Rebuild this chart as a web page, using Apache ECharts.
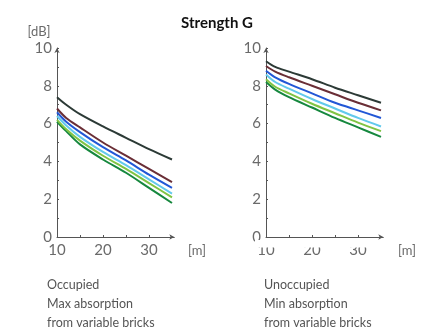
<!DOCTYPE html>
<html>
<head>
<meta charset="utf-8">
<script src="https://cdn.jsdelivr.net/npm/echarts@6/dist/echarts.min.js"></script>
<style>html,body{margin:0;padding:0;background:#fff;}#c{width:448px;height:330px;}</style>
</head>
<body>
<div id="c"></div>
<script>
const distances = [10, 12, 15, 20, 25, 30, 35];
const seriesNames = ['S1', 'S2', 'S3', 'S4', 'S5', 'S6'];
const seriesColors = ['#2c3a36', '#6a2e36', '#2257d6', '#62c9ec', '#80c444', '#16883e'];
// Occupied, max absorption
const occ1 = [7.4, 7.0, 6.5, 5.85, 5.25, 4.65, 4.1];
const occ2 = [6.8, 6.3, 5.8, 5.0, 4.3, 3.6, 2.9];
const occ3 = [6.6, 6.1, 5.55, 4.75, 4.05, 3.3, 2.6];
const occ4 = [6.4, 5.9, 5.3, 4.5, 3.8, 3.05, 2.3];
const occ5 = [6.2, 5.7, 5.1, 4.3, 3.6, 2.85, 2.1];
const occ6 = [6.1, 5.6, 4.9, 4.1, 3.4, 2.6, 1.8];
// Unoccupied, min absorption
const un1 = [9.3, 9.0, 8.75, 8.35, 7.9, 7.5, 7.1];
const un2 = [9.05, 8.75, 8.45, 8.0, 7.55, 7.1, 6.7];
const un3 = [8.8, 8.45, 8.1, 7.6, 7.1, 6.7, 6.3];
const un4 = [8.6, 8.2, 7.85, 7.3, 6.8, 6.3, 5.85];
const un5 = [8.35, 7.95, 7.6, 7.05, 6.55, 6.05, 5.6];
const un6 = [8.2, 7.8, 7.4, 6.85, 6.3, 5.8, 5.3];
const yTicks = [0, 2, 4, 6, 8, 10];
const xTickLabels = [10, 20, 30];

const occ = [occ1, occ2, occ3, occ4, occ5, occ6];
const un = [un1, un2, un3, un4, un5, un6];

const axisColor = '#555';
const labelColor = '#6a6a6a';
const font = 'Lato, "Open Sans", sans-serif';

function xAxis(idx) {
  return {
    type: 'value', gridIndex: idx, min: 10, max: 35.5, interval: 5,
    axisLine: { lineStyle: { color: axisColor, width: 1 }, symbol: ['none', 'arrow'], symbolSize: [4, 5] },
    axisTick: { inside: true, length: 2, lineStyle: { color: axisColor }, customValues: [15, 20, 25, 30] },
    splitLine: { show: false },
    axisLabel: { customValues: xTickLabels, color: labelColor, fontSize: 15, fontFamily: font, margin: 6 }
  };
}
function yAxis(idx) {
  return {
    type: 'value', gridIndex: idx, min: 0, max: 10, interval: 1,
    axisLine: { show: true, lineStyle: { color: axisColor, width: 1 }, symbol: ['none', 'arrow'], symbolSize: [4, 5] },
    axisTick: { show: true, inside: true, length: 2, lineStyle: { color: axisColor } },
    splitLine: { show: false },
    axisLabel: { customValues: yTicks, color: labelColor, fontSize: 15, fontFamily: font, margin: 5 }
  };
}
function mkSeries(arrs, idx) {
  return arrs.map((a, i) => ({
    type: 'line', name: seriesNames[i], xAxisIndex: idx, yAxisIndex: idx,
    data: distances.map((d, j) => [d, a[j]]),
    showSymbol: false, smooth: 0.3, z: 10 - i,
    lineStyle: { color: seriesColors[i], width: 2 }
  }));
}
const chart = echarts.init(document.getElementById('c'), null, { renderer: 'canvas' });
chart.setOption({
  animation: false,
  backgroundColor: '#fff',
  title: { text: 'Strength G', left: 212, top: 11, textAlign: 'center',
    textStyle: { fontSize: 15, fontWeight: 'bold', color: '#111', fontFamily: font } },
  grid: [
    { left: 57, top: 48, width: 117.3, height: 189 },
    { left: 266, top: 48, width: 117.3, height: 189 }
  ],
  xAxis: [xAxis(0), xAxis(1)],
  yAxis: [yAxis(0), yAxis(1)],
  series: [...mkSeries(occ, 0), ...mkSeries(un, 1)],
  graphic: [
    { type: 'rect', shape: { x: 255, y: 240, width: 120, height: 7.5 }, style: { fill: '#fff' }, z: 100 },
    { type: 'text', x: 39, y: 32, style: { text: '[dB]', fill: labelColor, fontSize: 13, fontFamily: font, align: 'center', verticalAlign: 'middle' } },
    { type: 'text', x: 197, y: 251, style: { text: '[m]', fill: labelColor, fontSize: 13, fontFamily: font, align: 'center', verticalAlign: 'middle' } },
    { type: 'text', x: 407, y: 251, style: { text: '[m]', fill: labelColor, fontSize: 13, fontFamily: font, align: 'center', verticalAlign: 'middle' } },
    { type: 'text', x: 47, y: 275, style: { text: 'Occupied\nMax absorption\nfrom variable bricks', fill: '#555', fontSize: 12.5, lineHeight: 19, fontFamily: font } },
    { type: 'text', x: 264, y: 275, style: { text: 'Unoccupied\nMin absorption\nfrom variable bricks', fill: '#555', fontSize: 12.5, lineHeight: 19, fontFamily: font } }
  ]
});
</script>
</body>
</html>
